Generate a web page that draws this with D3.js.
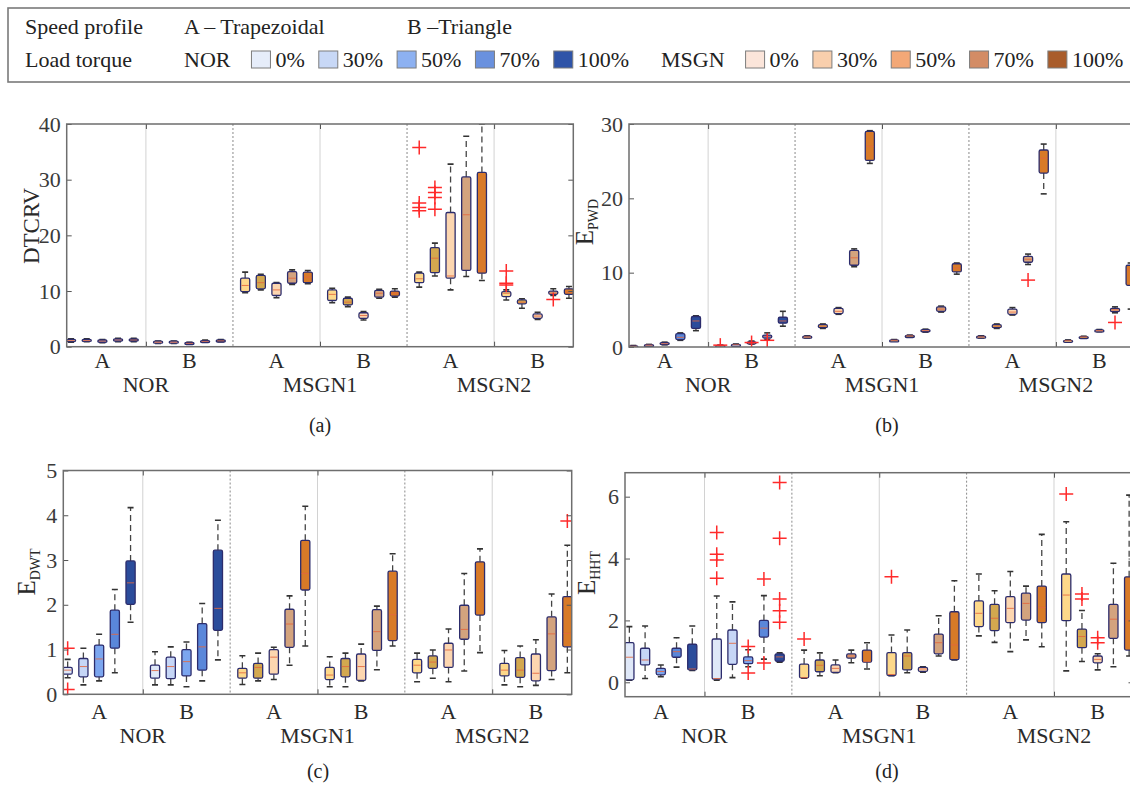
<!DOCTYPE html>
<html>
<head>
<meta charset="utf-8">
<script src="https://cdn.jsdelivr.net/npm/d3@7"></script>
<style>
  body { margin: 0; background: #fff; }
  svg, svg text { font-family: "Times New Roman", "Liberation Serif", Times, serif; }
</style>
</head>
<body>
<svg width="1130" height="787"></svg>
<script>
var loads = ["0%", "30%", "50%", "70%", "100%"];
var profiles = ["A", "B"];
var faults = ["NOR", "MSGN1", "MSGN2"];

var norColors  = ["#dfe8f8", "#c6d6f6", "#7ca6ef", "#5a87da", "#2b4c9b"];
var msgnColors = ["#fdd88a", "#d3a84f", "#fcd6b0", "#d3a37e", "#d87a28"];
var norLegendColors  = ["#e6edfa", "#c8d8f6", "#8db1f1", "#6a91de", "#2f54a8"];
var msgnLegendColors = ["#fbe5da", "#f9cfad", "#f3a877", "#d38c65", "#a95c2b"];

// each box: [lower whisker, q1, median, q3, upper whisker]
// rows: NOR A, NOR B, MSGN1 A, MSGN1 B, MSGN2 A, MSGN2 B ; columns: loads
var dtcrvStats = [
  [[0.8,0.9,1.1,1.3,1.4],[0.9,1.0,1.1,1.3,1.4],[0.7,0.8,1.0,1.2,1.3],[0.9,1.0,1.2,1.4,1.5],[0.9,1.0,1.2,1.4,1.5]],
  [[0.6,0.7,0.8,1.0,1.0],[0.6,0.7,0.8,1.0,1.0],[0.5,0.55,0.6,0.75,0.8],[0.8,0.85,0.95,1.1,1.2],[0.9,0.95,1.05,1.2,1.3]],
  [[9.7,9.9,11.0,12.3,13.4],[10.2,10.4,11.5,12.8,13.0],[8.8,9.2,10.2,11.4,11.5],[11.2,11.4,12.3,13.5,13.8],[11.3,11.5,12.5,13.4,13.7]],
  [[7.9,8.3,9.4,10.2,10.5],[7.2,7.5,8.0,8.7,8.9],[4.8,5.1,5.6,6.1,6.3],[8.7,8.9,9.6,10.1,10.3],[8.9,9.1,9.6,10.0,10.4]],
  [[10.7,11.5,12.2,13.2,13.4],[12.7,13.3,15.9,17.8,18.6],[10.2,12.3,12.7,24.1,32.8],[12.6,13.7,23.7,30.5,37.8],[11.9,13.2,13.6,31.3,40]],
  [[8.4,9.0,9.6,9.9,10.2],[6.9,7.7,8.0,8.4,8.6],[4.9,5.1,5.5,5.9,6.2],[9.2,9.4,9.6,10.0,10.4],[8.7,9.4,9.8,10.4,10.8]]
];
// [group, load, values]
var dtcrvOutliers = [
  [4, 0, [35.8, 25.8, 25.0, 24.4]],
  [4, 1, [28.6, 27.7, 26.8, 24.7]],
  [5, 0, [13.6, 11.4, 11.1]],
  [5, 3, [8.5]]
];

var pwdStats = [
  [[0.0,0.05,0.1,0.15,0.2],[0.1,0.15,0.25,0.3,0.35],[0.3,0.35,0.45,0.6,0.65],[0.9,1.0,1.3,1.8,1.9],[2.2,2.5,3.5,4.1,4.2]],
  [[0.05,0.1,0.15,0.2,0.25],[0.2,0.25,0.3,0.35,0.4],[0.4,0.45,0.55,0.7,0.8],[1.0,1.2,1.4,1.6,1.9],[2.8,3.2,3.5,4.0,4.8]],
  [[1.2,1.25,1.35,1.45,1.5],[2.5,2.6,2.8,3.0,3.1],[4.4,4.5,4.8,5.2,5.3],[10.8,11.0,12.0,13.0,13.2],[24.7,25.1,27.0,29.0,29.1]],
  [[0.8,0.85,0.9,0.95,1.0],[1.35,1.4,1.5,1.55,1.6],[2.0,2.05,2.2,2.35,2.4],[4.7,4.8,5.1,5.4,5.5],[9.8,10.1,10.6,11.2,11.3]],
  [[1.2,1.25,1.35,1.45,1.5],[2.5,2.6,2.8,3.0,3.1],[4.3,4.4,4.7,5.1,5.3],[11.1,11.4,11.8,12.2,12.5],[20.6,23.4,25.4,26.5,27.3]],
  [[0.75,0.8,0.85,0.9,0.95],[1.25,1.3,1.35,1.4,1.45],[2.05,2.1,2.2,2.3,2.35],[4.6,4.75,5.0,5.2,5.4],[5.1,8.3,10.4,11.0,11.3]]
];
var pwdOutliers = [
  [1, 0, [0.25]],
  [1, 2, [0.6]],
  [1, 3, [0.9]],
  [4, 3, [9.0]],
  [5, 3, [3.3]]
];

var dwtStats = [
  [[0.37,0.45,0.54,0.6,0.78],[0.21,0.39,0.62,0.8,1.03],[0.3,0.39,0.79,1.1,1.34],[0.48,1.03,1.34,1.88,2.34],[1.61,2.01,2.49,2.98,4.17]],
  [[0.21,0.36,0.53,0.65,0.95],[0.21,0.35,0.62,0.83,1.06],[0.17,0.41,0.73,1.0,1.17],[0.3,0.54,1.06,1.58,2.03],[0.77,1.43,1.92,3.22,3.89]],
  [[0.22,0.36,0.48,0.58,0.86],[0.3,0.36,0.6,0.69,0.92],[0.33,0.45,0.83,1.0,1.05],[0.65,1.05,1.57,1.9,2.2],[1.08,2.33,2.7,3.44,4.2]],
  [[0.17,0.33,0.43,0.6,0.84],[0.17,0.39,0.62,0.8,0.92],[0.3,0.31,0.62,0.9,1.12],[0.55,0.98,1.4,1.89,1.97],[1.08,1.2,1.78,2.75,3.14]],
  [[0.28,0.48,0.65,0.78,0.92],[0.36,0.58,0.72,0.86,0.99],[0.28,0.6,0.99,1.14,1.46],[0.52,1.23,1.45,1.99,2.7],[0.93,1.77,2.31,2.96,3.25]],
  [[0.21,0.41,0.54,0.69,0.98],[0.17,0.38,0.54,0.82,1.08],[0.2,0.3,0.47,0.9,1.22],[0.33,0.53,1.35,1.73,2.24],[0.48,1.06,1.36,2.18,3.33]]
];
var dwtOutliers = [
  [0, 0, [1.03, 0.11]],
  [5, 4, [3.87]]
];

var hhtStats = [
  [[0.07,0.08,0.81,1.28,1.8],[0.12,0.56,0.72,1.1,1.82],[0.18,0.24,0.35,0.45,0.56],[0.49,0.81,0.99,1.1,1.44],[0.38,0.4,0.43,1.23,1.82]],
  [[0.07,0.1,0.12,1.4,2.79],[0.15,0.58,1.26,1.69,2.6],[0.5,0.6,0.7,0.82,1.05],[0.75,1.46,1.75,2.0,2.8],[0.65,0.68,0.82,0.92,0.95]],
  [[0.13,0.14,0.15,0.59,1.04],[0.21,0.34,0.55,0.72,0.95],[0.31,0.32,0.45,0.56,0.72],[0.63,0.78,0.85,0.92,1.04],[0.43,0.65,0.67,1.04,1.28]],
  [[0.21,0.22,0.25,0.96,1.53],[0.31,0.4,0.85,0.96,1.69],[0.33,0.35,0.43,0.48,0.5],[0.85,0.92,1.28,1.56,2.15],[0.72,0.73,1.21,2.28,3.28]],
  [[1.5,1.8,2.23,2.63,3.5],[1.29,1.67,2.07,2.52,2.96],[0.99,1.93,2.39,2.77,3.58],[1.37,2.01,2.55,2.88,3.11],[1.15,1.93,2.42,3.11,4.78]],
  [[0.37,1.99,2.82,3.5,5.19],[0.67,1.12,1.48,1.72,2.32],[0.4,0.63,0.74,0.85,0.92],[0.5,1.42,2.04,2.52,3.85],[0.85,1.04,2.01,3.41,6.05]]
];
var hhtOutliers = [
  [1, 0, [4.84, 4.14, 3.95, 3.36]],
  [1, 2, [1.16, 0.3]],
  [1, 3, [3.34, 0.62]],
  [1, 4, [6.46, 4.66, 2.69, 2.31, 1.94]],
  [2, 0, [1.4]],
  [3, 0, [3.41]],
  [5, 0, [6.09]],
  [5, 1, [2.85, 2.69]],
  [5, 2, [1.44, 1.28]]
];

var FONT = '"Times New Roman", "Liberation Serif", Times, serif';
var svg = d3.select("svg").attr("font-family", FONT);

// ---------- legend ----------
var leg = svg.append("g").style("font-size", "22px").style("fill", "#222");
leg.append("rect").attr("x", 8).attr("y", 8).attr("width", 1140).attr("height", 74)
  .attr("fill", "none").attr("stroke", "#7a7a7a").attr("stroke-width", 1.6);
leg.append("text").attr("x", 25).attr("y", 34).text("Speed profile");
leg.append("text").attr("x", 184).attr("y", 34).text("A \u2013 Trapezoidal");
leg.append("text").attr("x", 407).attr("y", 34).text("B \u2013Triangle");
leg.append("text").attr("x", 25).attr("y", 67).text("Load torque");

function legendRow(name, x0, colors) {
  var t = leg.append("text").attr("x", x0).attr("y", 67).text(name);
  var x = x0 + t.node().getComputedTextLength() + 21;
  loads.forEach(function(l, i) {
    leg.append("rect").attr("x", x).attr("y", 51).attr("width", 19).attr("height", 17)
      .attr("fill", colors[i]).attr("stroke", "#7d7d7d").attr("stroke-width", 1);
    var lt = leg.append("text").attr("x", x + 24).attr("y", 67).text(l);
    x += 24 + lt.node().getComputedTextLength() + 14;
  });
}
legendRow("NOR", 184, norLegendColors);
legendRow("MSGN", 661, msgnLegendColors);

// ---------- panels ----------
var panels = [
  { stats: dtcrvStats, out: dtcrvOutliers, left: 66.7, right: 573.3, top: 124, bottom: 346.7,
    ydom: [0, 40], ticks: [0, 10, 20, 30, 40], label: "DTCRV", sub: null, labelX: 39, labelY: 226,
    caption: "(a)", capX: 320, capY: 432, xlabY: 368, grpY: 392 },
  { stats: pwdStats, out: pwdOutliers, left: 629, right: 1135, top: 124, bottom: 347,
    ydom: [0, 30], ticks: [0, 10, 20, 30], label: "E", sub: "PWD", labelX: 593, labelY: 222,
    caption: "(b)", capX: 887, capY: 432, xlabY: 368, grpY: 392 },
  { stats: dwtStats, out: dwtOutliers, left: 63.3, right: 571.7, top: 470.5, bottom: 694.3,
    ydom: [0, 5], ticks: [0, 1, 2, 3, 4, 5], label: "E", sub: "DWT", labelX: 35, labelY: 572,
    caption: "(c)", capX: 318, capY: 778, xlabY: 719, grpY: 743 },
  { stats: hhtStats, out: hhtOutliers, left: 625, right: 1133.5, top: 472.7, bottom: 696.7,
    ydom: [-0.466, 6.775], ticks: [0, 2, 4, 6], label: "E", sub: "HHT", labelX: 595, labelY: 573,
    caption: "(d)", capX: 887, capY: 778, xlabY: 719, grpY: 743 }
];

var boxW = 0.105, boxStep = 0.18;

panels.forEach(function(p, pi) {
  var x = d3.scaleLinear().domain([0.09, 5.91]).range([p.left, p.right]);
  var y = d3.scaleLinear().domain(p.ydom).range([p.bottom, p.top]);
  var g = svg.append("g");

  var clipId = "clip" + pi;
  svg.append("clipPath").attr("id", clipId).append("rect")
    .attr("x", p.left).attr("y", p.top).attr("width", p.right - p.left).attr("height", p.bottom - p.top);
  var plot = g.append("g").attr("clip-path", "url(#" + clipId + ")");

  // separators: solid between A|B, dotted between fault types
  [1, 3, 5].forEach(function(v) {
    plot.append("line").attr("x1", x(v)).attr("x2", x(v)).attr("y1", p.top).attr("y2", p.bottom)
      .attr("stroke", "#d2d2d2").attr("stroke-width", 1);
  });
  [2, 4].forEach(function(v) {
    plot.append("line").attr("x1", x(v)).attr("x2", x(v)).attr("y1", p.top).attr("y2", p.bottom)
      .attr("stroke", "#8a8a8a").attr("stroke-width", 1).attr("stroke-dasharray", "2,2");
  });

  var boxes = [];
  p.stats.forEach(function(grp, gi) {
    grp.forEach(function(s, li) {
      boxes.push({ g: gi, l: li, s: s, cx: gi + 0.5 + (li - 2) * boxStep,
                   color: gi < 2 ? norColors[li] : msgnColors[li] });
    });
  });

  var bx = plot.append("g");
  // whiskers
  bx.selectAll("line.wu").data(boxes).enter().append("line")
    .attr("x1", function(d) { return x(d.cx); }).attr("x2", function(d) { return x(d.cx); })
    .attr("y1", function(d) { return y(d.s[3]); }).attr("y2", function(d) { return y(d.s[4]); })
    .attr("stroke", "#444").attr("stroke-width", 1.3).attr("stroke-dasharray", "6,4");
  bx.selectAll("line.wl").data(boxes).enter().append("line")
    .attr("x1", function(d) { return x(d.cx); }).attr("x2", function(d) { return x(d.cx); })
    .attr("y1", function(d) { return y(d.s[1]); }).attr("y2", function(d) { return y(d.s[0]); })
    .attr("stroke", "#444").attr("stroke-width", 1.3).attr("stroke-dasharray", "6,4");
  // caps
  [0, 4].forEach(function(k) {
    bx.selectAll(null).data(boxes).enter().append("line")
      .attr("x1", function(d) { return x(d.cx) - 3; }).attr("x2", function(d) { return x(d.cx) + 3; })
      .attr("y1", function(d) { return y(d.s[k]); }).attr("y2", function(d) { return y(d.s[k]); })
      .attr("stroke", "#333").attr("stroke-width", 1.6);
  });
  // boxes
  bx.selectAll("rect").data(boxes).enter().append("rect")
    .attr("x", function(d) { return x(d.cx - boxW / 2); })
    .attr("width", x(boxW) - x(0))
    .attr("y", function(d) { return y(d.s[3]); })
    .attr("height", function(d) { return Math.max(2, y(d.s[1]) - y(d.s[3])); })
    .attr("rx", 1.5)
    .attr("fill", function(d) { return d.color; })
    .attr("stroke", "#2c2c6c").attr("stroke-width", 1.3);
  // medians
  bx.selectAll("line.med").data(boxes).enter().append("line")
    .attr("x1", function(d) { return x(d.cx - boxW / 2) + 1; })
    .attr("x2", function(d) { return x(d.cx + boxW / 2) - 1; })
    .attr("y1", function(d) { return y(d.s[2]); }).attr("y2", function(d) { return y(d.s[2]); })
    .attr("stroke", "#e4683f").attr("stroke-width", 1).attr("opacity", 0.85);

  // outliers
  var pts = [];
  p.out.forEach(function(o) {
    o[2].forEach(function(v) { pts.push({ cx: o[0] + 0.5 + (o[1] - 2) * boxStep, v: v }); });
  });
  var pg = plot.selectAll("g.out").data(pts).enter().append("g")
    .attr("transform", function(d) { return "translate(" + x(d.cx) + "," + y(d.v) + ")"; });
  pg.append("line").attr("x1", -7).attr("x2", 7).attr("stroke", "#ff2a2a").attr("stroke-width", 1.5);
  pg.append("line").attr("y1", -7).attr("y2", 7).attr("stroke", "#ff2a2a").attr("stroke-width", 1.5);

  // axes with inward ticks
  function styleAxis(a) {
    a.attr("font-family", FONT).attr("font-size", null);
    a.select(".domain").remove();
    a.selectAll("line").attr("stroke", "#555");
    a.selectAll("text").style("font-size", "22px").style("fill", "#3a3a3a");
  }
  var fmt = d3.format("d");
  g.append("g").attr("transform", "translate(" + p.left + ",0)")
    .call(d3.axisLeft(y).tickValues(p.ticks).tickFormat(fmt).tickSize(-5).tickPadding(6)).call(styleAxis);
  g.append("g").attr("transform", "translate(" + p.right + ",0)")
    .call(d3.axisRight(y).tickValues(p.ticks).tickSize(-5).tickFormat("")).call(styleAxis);
  g.append("g").attr("transform", "translate(0," + p.bottom + ")")
    .call(d3.axisBottom(x).tickValues([1, 3, 5]).tickSize(-5).tickFormat("")).call(styleAxis);
  g.append("g").attr("transform", "translate(0," + p.top + ")")
    .call(d3.axisTop(x).tickValues([1, 3, 5]).tickSize(-5).tickFormat("")).call(styleAxis);

  g.append("rect").attr("x", p.left).attr("y", p.top)
    .attr("width", p.right - p.left).attr("height", p.bottom - p.top)
    .attr("fill", "none").attr("stroke", "#6e6e6e").attr("stroke-width", 1.5);

  // category labels
  var lab = g.append("g").style("font-size", "22px").style("fill", "#2a2a2a").attr("text-anchor", "middle");
  d3.range(6).forEach(function(gi) {
    lab.append("text").attr("x", x(gi + 0.5)).attr("y", p.xlabY).text(profiles[gi % 2]);
  });
  faults.forEach(function(f, fi) {
    lab.append("text").attr("x", x(fi * 2 + 1)).attr("y", p.grpY).text(f);
  });

  // y label
  var yl = g.append("text")
    .attr("transform", "translate(" + p.labelX + "," + p.labelY + ") rotate(-90)")
    .attr("text-anchor", "middle").style("fill", "#2a2a2a")
    .style("font-size", p.sub ? "25px" : "23px").text(p.label);
  if (p.sub) yl.append("tspan").attr("dy", 5).style("font-size", "14px").text(p.sub);

  // caption
  g.append("text").attr("x", p.capX).attr("y", p.capY).attr("text-anchor", "middle")
    .style("font-size", "20px").style("fill", "#222").text(p.caption);
});
</script>
</body>
</html>
